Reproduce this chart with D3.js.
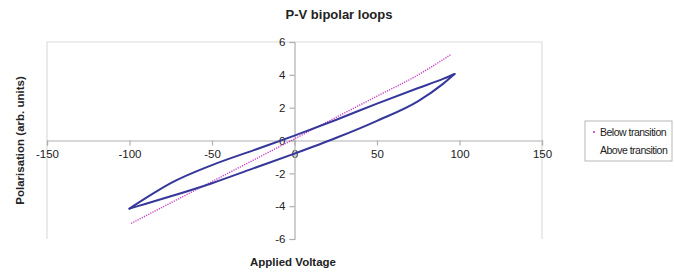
<!DOCTYPE html>
<html>
<head>
<meta charset="utf-8">
<script src="https://cdn.jsdelivr.net/npm/d3@7"></script>
<style>
  body { margin: 0; background: #fff; }
  svg { display: block; font-family: "Liberation Sans", Arial, sans-serif; }
</style>
</head>
<body>
<svg width="674" height="272"></svg>
<script>
  // tick labels
  const xTicks = [-150, -100, -50, 0, 50, 100, 150];
  const yTicks = [-6, -4, -2, 0, 2, 4, 6];

  // below transition: thin, almost straight
  const belowV = [-99, -75, -50, -25, 0, 25, 50, 75, 95];
  const belowP = [-5.05, -3.8, -2.5, -1.2, 0.1, 1.4, 2.7, 4.0, 5.25];

  // above transition: hysteresis loop (upper branch then lower branch)
  const aboveV = [97, 90, 75, 50, 25, 0, -25, -50, -75, -90, -100,
                  -90, -75, -50, -25, 0, 25, 50, 75, 90, 97];
  const aboveP = [4.05, 3.75, 3.2, 2.25, 1.25, 0.3, -0.6, -1.5, -2.6, -3.5, -4.15,
                  -3.85, -3.4, -2.6, -1.7, -0.8, 0.15, 1.2, 2.4, 3.45, 4.05];

  const svg = d3.select('svg');

  const pLeft = 47, pRight = 542, pTop = 42, pBottom = 239;

  const x = d3.scaleLinear().domain([-150, 150]).range([pLeft, pRight]);
  const y = d3.scaleLinear().domain([-6, 6]).range([pBottom, pTop]);

  // plot area border (left, top, right)
  svg.append('path')
    .attr('d', `M${pLeft},${pBottom}V${pTop}H${pRight}V${pBottom}`)
    .attr('fill', 'none')
    .attr('stroke', '#dcdcdc')
    .attr('stroke-width', 1.2);

  // plain hyphen minus like the original
  const fmt = d => String(d);

  // x axis through y=0
  const xAxis = svg.append('g')
    .attr('transform', `translate(0,${y(0)})`)
    .call(d3.axisBottom(x).tickValues(xTicks).tickFormat(fmt).tickSize(5).tickPadding(4));
  // y axis through x=0
  const yAxis = svg.append('g')
    .attr('transform', `translate(${x(0)},0)`)
    .call(d3.axisLeft(y).tickValues(yTicks).tickFormat(fmt).tickSize(5).tickPadding(4));

  [xAxis, yAxis].forEach(a => {
    a.select('.domain').attr('stroke', '#b0b0b0').attr('stroke-width', 1.2);
    a.selectAll('.tick line').attr('stroke', '#b0b0b0').attr('stroke-width', 1.2);
    a.selectAll('.tick text')
      .attr('fill', '#222')
      .style('font-size', '11.5px')
      .style('font-family', '"Liberation Sans", Arial, sans-serif');
  });

  const line = d3.line()
    .x(d => x(d[0]))
    .y(d => y(d[1]))
    .curve(d3.curveMonotoneX);

  // below transition (dotted magenta)
  svg.append('path')
    .datum(belowV.map((v, i) => [v, belowP[i]]))
    .attr('d', line)
    .attr('fill', 'none')
    .attr('stroke', '#c83cc8')
    .attr('stroke-width', 1.4)
    .attr('stroke-dasharray', '1.2,1.2');

  // above transition (navy loop), each branch drawn on its own so the tips stay sharp
  const loop = aboveV.map((v, i) => [v, aboveP[i]]);
  const turn = aboveV.indexOf(d3.min(aboveV));
  const branches = [
    loop.slice(0, turn + 1).reverse(),
    loop.slice(turn)
  ];
  svg.selectAll('path.above')
    .data(branches)
    .join('path')
    .attr('class', 'above')
    .attr('d', line)
    .attr('fill', 'none')
    .attr('stroke', '#35379a')
    .attr('stroke-width', 2)
    .attr('stroke-linecap', 'round');

  // titles
  svg.append('text')
    .attr('x', 339).attr('y', 19)
    .attr('text-anchor', 'middle')
    .attr('font-weight', 'bold')
    .attr('font-size', 13)
    .attr('fill', '#222')
    .text('P-V bipolar loops');

  svg.append('text')
    .attr('x', 293).attr('y', 266)
    .attr('text-anchor', 'middle')
    .attr('font-weight', 'bold')
    .attr('font-size', 11.5)
    .attr('fill', '#222')
    .text('Applied Voltage');

  svg.append('text')
    .attr('transform', `translate(24,${(pTop + pBottom) / 2}) rotate(-90)`)
    .attr('text-anchor', 'middle')
    .attr('font-weight', 'bold')
    .attr('font-size', 11.5)
    .attr('fill', '#222')
    .text('Polarisation (arb. units)');

  // legend
  const lg = svg.append('g').attr('transform', 'translate(585,121)');
  lg.append('rect')
    .attr('width', 87).attr('height', 40)
    .attr('fill', '#fff')
    .attr('stroke', '#b8b8b8');
  lg.append('circle')
    .attr('cx', 9).attr('cy', 11).attr('r', 1.1)
    .attr('fill', '#c83cc8');
  lg.append('text')
    .attr('x', 15).attr('y', 15)
    .attr('font-size', 10.5).attr('fill', '#222')
    .attr('letter-spacing', -0.5)
    .text('Below transition');
  lg.append('text')
    .attr('x', 15).attr('y', 33)
    .attr('font-size', 10.5).attr('fill', '#222')
    .attr('letter-spacing', -0.5)
    .text('Above transition');
</script>
</body>
</html>
